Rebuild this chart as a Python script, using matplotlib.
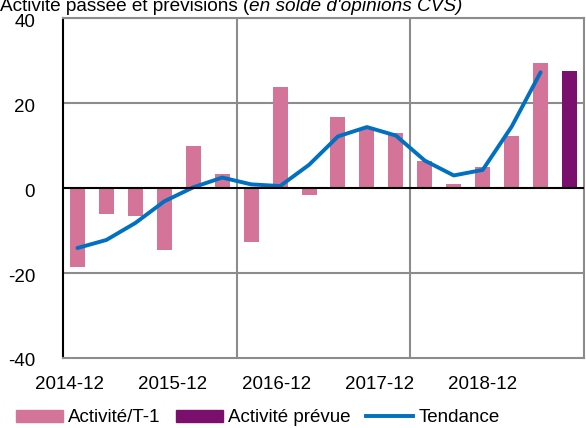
import matplotlib
matplotlib.use("Agg")
import matplotlib.pyplot as plt
import matplotlib.transforms as mtransforms
from matplotlib.patches import Patch
from matplotlib.lines import Line2D

plt.rcParams['font.family'] = ['Liberation Sans', 'DejaVu Sans']

# values (18 periods)
activite = [-18.6, -6.1, -6.6, -14.6, 9.9, 3.3, -12.9, 23.7, -1.7,
            16.6, 14.0, 13.0, 6.4, 1.0, 5.0, 12.1, 29.5, None]
prevue = [None] * 17 + [27.6]
tendance = [-14.2, -12.3, -8.3, -3.2, 0.1, 2.4, 0.8, 0.4, 5.4,
            12.1, 14.3, 12.3, 6.4, 2.9, 4.2, 14.4, 27.2]
x_labels = ['2014-12', '2015-12', '2016-12', '2017-12', '2018-12']
x_label_pos = [-0.29, 3.27, 6.89, 10.45, 14.01]

pink = '#D37498'
purple = '#7B0F6E'
blue = '#0070C0'

fig = plt.figure(figsize=(5.86, 4.28), dpi=100)
ax = fig.add_axes([63 / 586, (428 - 357.5) / 428, (584 - 63) / 586, (357.5 - 18) / 428])

idx = list(range(len(activite)))
ax.bar([i for i in idx if activite[i] is not None],
       [v for v in activite if v is not None], width=0.52, color=pink, zorder=2)
ax.bar([i for i in idx if prevue[i] is not None],
       [v for v in prevue if v is not None], width=0.55, color=purple, zorder=2)
ax.plot(range(len(tendance)), tendance, color=blue, lw=2.8, zorder=3,
        solid_capstyle='round', solid_joinstyle='round')

ax.set_xlim(-0.5, 17.5)
ax.set_ylim(-40, 40)
ax.set_yticks([-40, -20, 0, 20, 40])
ax.set_yticklabels(['-40', '-20', '0', '20', '40'])
ax.set_xticks(x_label_pos)
ax.set_xticklabels(x_labels)
ax.tick_params(length=0, labelsize=13.5, colors='black')
ax.tick_params(axis='y', pad=20)
ax.tick_params(axis='x', pad=13)

# y labels sit a little below their gridlines in the source
shift = mtransforms.ScaledTranslation(0, -2.5 / 100, fig.dpi_scale_trans)
for lab in ax.get_yticklabels():
    lab.set_transform(lab.get_transform() + shift)

for y in [-20, 20, 40]:
    ax.axhline(y, color='#8C8C8C', lw=1.5, zorder=1)
for x in [5.5, 11.5]:
    ax.axvline(x, color='#8C8C8C', lw=1.5, zorder=1)
ax.axhline(0, color='black', lw=1.5, zorder=4)

for s in ['top', 'right', 'bottom']:
    ax.spines[s].set_color('#8C8C8C')
    ax.spines[s].set_linewidth(1.5)
ax.spines['left'].set_color('black')
ax.spines['left'].set_linewidth(1.5)

# title, partly cut at the top as in the source
fig.text(0.0, 428 - 11, "Activité passée et prévisions (", transform=None,
         fontsize=13.7, va='baseline', ha='left')
t1 = fig.texts[-1]
fig.canvas.draw()
bb = t1.get_window_extent()
fig.text(bb.x1, 428 - 11, "en solde d'opinions CVS)", transform=None,
         fontsize=13.7, style='italic', va='baseline', ha='left')

handles = [Patch(color=pink), Patch(color=purple), Line2D([], [], color=blue, lw=2.8)]
fig.legend(handles, ['Activité/T-1', 'Activité prévue', 'Tendance'],
           loc='center', bbox_to_anchor=(0.44, (428 - 418) / 428), ncol=3,
           frameon=False, fontsize=13.5, handlelength=2.5, handleheight=0.6,
           handletextpad=0.3, columnspacing=0.8, borderaxespad=0)

fig.savefig('out.png', dpi=100)
